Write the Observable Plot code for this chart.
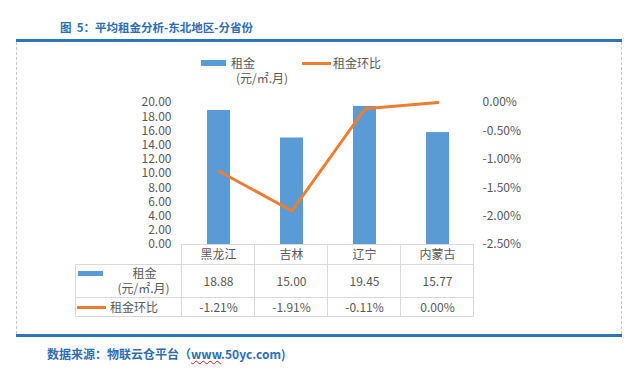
<!DOCTYPE html>
<html>
<head>
<meta charset="utf-8">
<script src="https://cdn.jsdelivr.net/npm/d3@7"></script>
<script src="https://cdn.jsdelivr.net/npm/@observablehq/plot@0.6"></script>
<style>
  html, body { margin: 0; padding: 0; background: #fff; }
  #page { position: relative; width: 643px; height: 379px; overflow: hidden; background: #fff;
          font-family: "Noto Sans CJK SC", "Noto Sans", sans-serif; }
  .lbl { position: absolute; line-height: 1; white-space: nowrap; }
  .blk { position: absolute; }
</style>
</head>
<body>
<div id="page"></div>
<script>
// ---- data ----
const categories = ["黑龙江", "吉林", "辽宁", "内蒙古"];
const rent = [18.88, 15.00, 19.45, 15.77];          // 租金 (元/㎡.月)
const rentMoM = [-1.21, -1.91, -0.11, 0.00];         // 租金环比 (%)
const leftTicks = [0, 2, 4, 6, 8, 10, 12, 14, 16, 18, 20];
const rightTicks = [0, -0.5, -1, -1.5, -2, -2.5];
const titleText = "图&nbsp;&nbsp;5：平均租金分析-东北地区-分省份";
const seriesNames = ["租金", "(元/㎡.月)", "租金环比"];

// ---- helpers ----
const page = document.getElementById("page");
const GRAY = "#595959", BLUE = "#5B9BD5", ORANGE = "#ED7D31", DARKBLUE = "#2E75B6", GRID = "#d9d9d9";
function label(txt, x, y, opt = {}) {
  const d = document.createElement("div");
  d.className = "lbl";
  d.innerHTML = txt;
  const ax = opt.anchor === "middle" ? "-50%" : opt.anchor === "end" ? "-100%" : "0";
  d.style.left = x + "px";
  d.style.top = y + "px";
  d.style.transform = `translate(${ax}, -50%)`;
  d.style.fontSize = (opt.size || 12) + "px";
  d.style.color = opt.color || GRAY;
  if (opt.weight) d.style.fontWeight = opt.weight;
  page.appendChild(d);
  return d;
}
function block(x, y, w, h, css) {
  const d = document.createElement("div");
  d.className = "blk";
  Object.assign(d.style, { left: x + "px", top: y + "px", width: w + "px", height: h + "px" }, css);
  page.appendChild(d);
  return d;
}

// ---- frame ----
block(16, 42, 604, 292, { borderLeft: "1px dashed #c8c8c8", borderRight: "1px dashed #c8c8c8" });
block(16, 39, 606, 3, { background: DARKBLUE });
block(16, 334, 606, 3, { background: DARKBLUE });
label(titleText, 60, 28, { color: "#2E6DB4", weight: "bold", size: 11.5 });
label('数据来源：物联云仓平台（<span style="text-decoration: underline wavy #e02020; text-decoration-thickness:1px">www</span>.50yc.com)', 47, 354, { color: "#2E6DB4", weight: "bold", size: 12 });

// ---- legend ----
block(201, 60, 25, 6, { background: BLUE });
label(seriesNames[0], 231, 63);
label(seriesNames[1], 236, 78);
block(302, 61.5, 29, 3, { background: ORANGE });
label(seriesNames[2], 333, 63);

// ---- chart ----
const data = categories.map((c, i) => ({ cat: c, rent: rent[i], mom: rentMoM[i] }));
const toLeft = p => (p + 2.5) / 2.5 * 20;     // secondary axis (%) -> primary axis units
const fromLeft = v => v / 20 * 2.5 - 2.5;

const chart = Plot.plot({
  width: 643,
  height: 160,
  marginLeft: 181,
  marginRight: 169,
  marginTop: 12,
  marginBottom: 6,
  style: { fontFamily: '"Noto Sans CJK SC", "Noto Sans", sans-serif', fontSize: "12px", color: GRAY, background: "transparent" },
  x: { domain: categories, padding: 0, axis: null },
  y: { domain: [0, 20] },
  marks: [
    Plot.axisY({ ticks: leftTicks, tickSize: 0, tickPadding: 10, label: null, tickFormat: d => d.toFixed(2), fill: GRAY }),
    Plot.axisY({ anchor: "right", ticks: rightTicks.map(toLeft), tickSize: 0, tickPadding: 8, label: null,
                 tickFormat: d => (Math.abs(fromLeft(d)) < 1e-9 ? 0 : fromLeft(d)).toFixed(2) + "%", fill: GRAY }),
    Plot.barY(data, { x: "cat", y: "rent", fill: BLUE, insetLeft: 25, insetRight: 25 }),
    Plot.line(data, { x: "cat", y: d => toLeft(d.mom), stroke: ORANGE, strokeWidth: 3, strokeLinejoin: "miter" })
  ]
});
chart.style.position = "absolute";
chart.style.left = "0px";
chart.style.top = "90px";
page.appendChild(chart);

// ---- data table (aligned with the chart's x scale) ----
const xs = chart.scale("x");
const bw = xs.bandwidth;
const x0 = xs.range[0];
const xEnd = x0 + bw * categories.length;
const tableLeft = 75;
const rowY = [244, 264, 297, 316];
block(x0, rowY[0], xEnd - x0, 1, { background: GRID });
for (let k = 1; k < rowY.length; k++) block(tableLeft, rowY[k], xEnd - tableLeft + 1, 1, { background: GRID });
block(tableLeft, rowY[1], 1, rowY[3] - rowY[1] + 1, { background: GRID });
for (let i = 0; i <= categories.length; i++) block(x0 + i * bw, rowY[0], 1, rowY[3] - rowY[0] + 1, { background: GRID });

categories.forEach((c, i) => {
  const cx = xs.apply(c) + bw / 2;
  label(c, cx, 254, { anchor: "middle" });
  label(rent[i].toFixed(2), cx, 281, { anchor: "middle" });
  label(rentMoM[i].toFixed(2) + "%", cx, 307, { anchor: "middle" });
});
block(78, 271, 25, 5, { background: BLUE });
label(seriesNames[0], 144.5, 273, { anchor: "middle" });
label(seriesNames[1], 143.5, 288, { anchor: "middle" });
block(77, 305.5, 29, 3, { background: ORANGE });
label(seriesNames[2], 110, 307);
</script>
</body>
</html>
